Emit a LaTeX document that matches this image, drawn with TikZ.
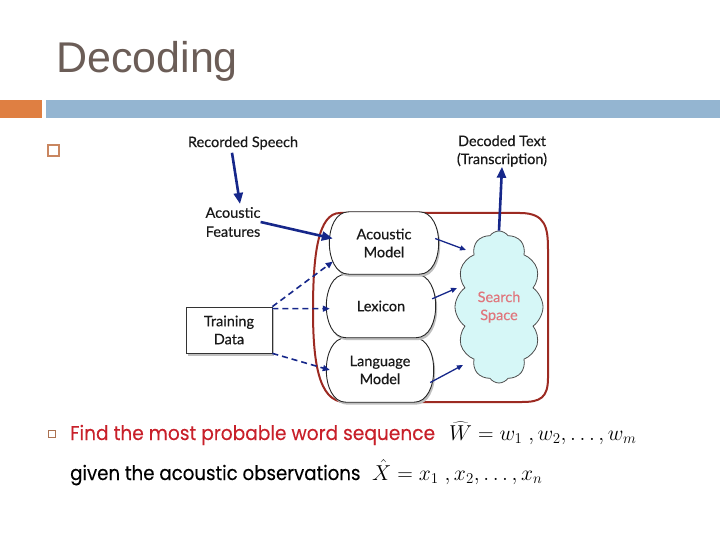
\documentclass[tikz,border=0pt]{standalone}
\usepackage{fontspec}
\setmainfont{Liberation Sans}
\newfontfamily\titlef{Liberation Sans}
\newfontfamily\diagf{Lato}[FakeBold=0.4]
\newfontfamily\bodyf{Poppins}[FakeBold=0.2]
\usetikzlibrary{shapes.symbols,arrows.meta,calc,shadows}
\pgfdeclarelayer{back}
\pgfdeclarelayer{bg}
\pgfsetlayers{back,bg,main}
\definecolor{titlegray}{HTML}{6B5D57}
\definecolor{barorange}{HTML}{DF7F42}
\definecolor{barblue}{HTML}{94B5D1}
\definecolor{bulletc}{HTML}{C98660}
\definecolor{navy}{HTML}{16278A}
\definecolor{boxred}{HTML}{9C2A22}
\definecolor{cloudfill}{HTML}{D6F7F7}
\definecolor{ssred}{HTML}{E0767D}
\definecolor{findred}{HTML}{C8202A}
\newcommand\capsulebox[1]{%
  \fill[black!25] ($(#1.north west)+(17.5,2.5)$) -- ($(#1.north east)+(-14.5,2.5)$)
    .. controls ($(#1.north east)+(11.5,2.5)$) and ($(#1.south east)+(11.5,2.5)$) .. ($(#1.south east)+(-14.5,2.5)$)
    -- ($(#1.south west)+(17.5,2.5)$)
    .. controls ($(#1.south west)+(-8.5,2.5)$) and ($(#1.north west)+(-8.5,2.5)$) .. cycle;
  \draw[black!85, line width=0.9pt, fill=white] ($(#1.north west)+(16,0)$) -- ($(#1.north east)+(-16,0)$)
    .. controls ($(#1.north east)+(10,0)$) and ($(#1.south east)+(10,0)$) .. ($(#1.south east)+(-16,0)$)
    -- ($(#1.south west)+(16,0)$)
    .. controls ($(#1.south west)+(-10,0)$) and ($(#1.north west)+(-10,0)$) .. cycle;}
\begin{document}
\begin{tikzpicture}[x=1pt,y=-1pt,
  lbl/.style={font=\diagf\fontsize{14.5}{18}\selectfont, text=black!90, align=center, inner sep=0pt},
  capnode/.style={lbl, minimum width=102pt},
  navythick/.style={draw=navy, line width=2.6pt, -{Triangle[length=11pt,width=9pt]}},
  navythin/.style={draw=navy, line width=1.3pt, -{Triangle[length=6pt,width=5pt]}},
  navydash/.style={draw=navy, line width=1.6pt, dash pattern=on 6pt off 4pt, -{Triangle[length=7pt,width=6pt]}},
  bodytext/.style={anchor=base west, inner sep=0pt, font=\bodyf\fontsize{20}{24}\selectfont},
  mathtext/.style={anchor=base west, inner sep=0pt, font=\fontsize{20}{24}\selectfont},
]
\useasboundingbox (0,0) rectangle (720,540);

% title and bars
\node[anchor=base west, inner sep=0pt, font=\titlef\fontsize{43}{50}\selectfont, text=titlegray] (title) at (56,73) {Decoding};
\fill[barorange] (0,100) rectangle (42,118);
\fill[barblue] (46,100) rectangle (720,118);

% bullets
\node[draw=bulletc, line width=2pt, minimum size=11pt, inner sep=0pt] (b1) at (53,151) {};
\node[draw=bulletc!85!black, line width=1pt, minimum size=7pt, inner sep=0pt] (b2) at (51.5,434) {};

% diagram nodes
\node[lbl] (rs) at (243,143) {Recorded Speech};
\node[lbl, font=\diagf\fontsize{14.5}{19}\selectfont] (af) at (233,222) {Acoustic\\Features};
\node[lbl] (dt) at (502,151) {Decoded Text\\(Transcription)};
\node[capnode, minimum height=62pt] (am) at (384,243) {Acoustic\\Model};
\node[capnode, minimum height=63pt] (lx) at (381,306) {Lexicon};
\node[capnode, minimum height=64pt, minimum width=100pt] (lm) at (380,370) {Language\\Model};
\node[cloud, cloud puffs=12, cloud puff arc=110, cloud ignores aspect, draw=black!70, line width=0.8pt,
      fill=cloudfill, minimum width=88pt, minimum height=152pt, inner sep=0pt,
      text=ssred, font=\diagf\fontsize{14.5}{18}\selectfont, align=center] (ss) at (499,307) {Search\\Space};
\node[lbl, draw=black!80, line width=0.8pt, fill=white, minimum width=86pt, minimum height=46pt,
      drop shadow={shadow xshift=1.5pt, shadow yshift=-2.5pt, opacity=0.5}] (td) at (229,330) {Training\\Data};

% container and capsules behind
\begin{pgfonlayer}{back}
\draw[boxred, line width=2pt] (340,213) -- (520,213) .. controls (546,213) and (548,228) .. (548,250)
  -- (548,378) .. controls (548,398) and (540,402) .. (522,402) -- (345,402)
  .. controls (318,402) and (313,360) .. (313,310) .. controls (313,255) and (318,213) .. (340,213) -- cycle;
\end{pgfonlayer}
\begin{pgfonlayer}{bg}
\capsulebox{lm}
\capsulebox{lx}
\capsulebox{am}
\end{pgfonlayer}

% connectors
\draw[navythick] ($(rs.south)+(-11,3)$) -- ($(af.north)+(7,-3)$);
\draw[navythick] (af.east) -- (am.175);
\draw[navythick] (ss.north) -- (dt.south);
\draw[navydash] (td.north east) -- (am.200);
\draw[navydash] ($(td.north east)+(0,2)$) -- (lx.183);
\draw[navydash] (td.south east) -- (lm.west);
\draw[navythin] (am.5) -- ($(ss.center)+(-33,-57)$);
\draw[navythin] (lx.8) -- ($(ss.center)+(-42,-19)$);
\draw[navythin] (lm.-14) -- ($(ss.center)+(-36,58)$);

% bottom text
\node[bodytext, text=findred] (l1) at (70,440) {\scalebox{0.93}[1]{Find the most probable word sequence}};
\node[mathtext] (m1) at (449,440) {\scalebox{1.04}{$\widehat{W} = w_1\ , w_2, \ldots , w_m$}};
\node[bodytext] (l2) at (70,480) {\scalebox{0.91}[1]{given the acoustic observations}};
\node[mathtext] (m2) at (372,480) {\scalebox{1.04}{$\hat{X} = x_1\ , x_2, \ldots , x_n$}};
\end{tikzpicture}
\end{document}
